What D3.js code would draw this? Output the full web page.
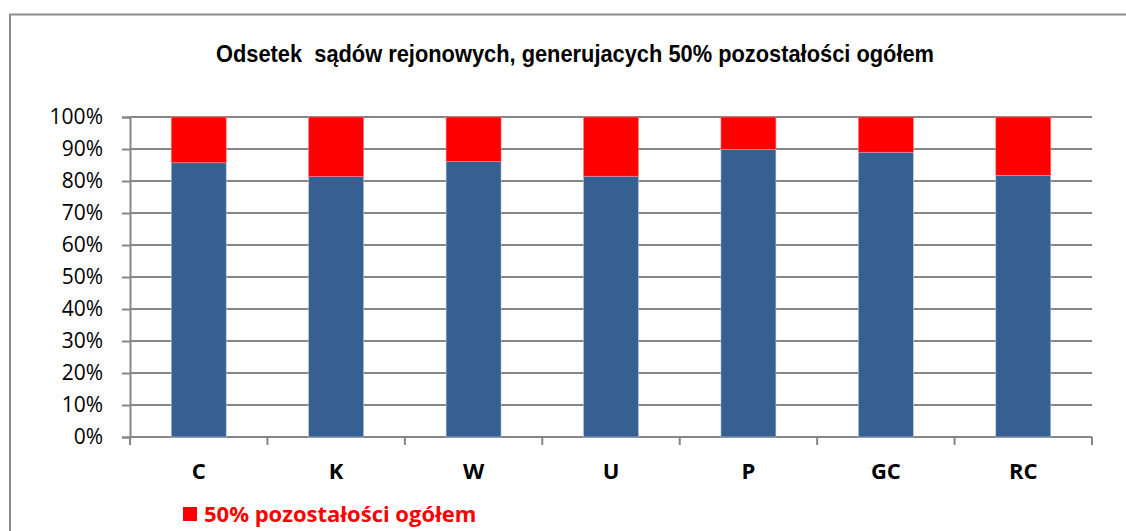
<!DOCTYPE html>
<html>
<head>
<meta charset="utf-8">
<script src="https://cdn.jsdelivr.net/npm/d3@7"></script>
<style>
  body { margin: 0; background: #fff; }
  svg { display: block; }
</style>
</head>
<body>
<svg id="chart" width="1126" height="531"></svg>
<script>
var categories = ['C', 'K', 'W', 'U', 'P', 'GC', 'RC'];
var baseShare = [0.857, 0.814, 0.861, 0.815, 0.899, 0.890, 0.818];
var topShare = [0.143, 0.186, 0.139, 0.185, 0.101, 0.110, 0.182];
var yTicks = [0, 0.1, 0.2, 0.3, 0.4, 0.5, 0.6, 0.7, 0.8, 0.9, 1];
var legendLabel = '50% pozostałości ogółem';
var title = 'Odsetek  sądów rejonowych, generujacych 50% pozostałości ogółem';

var svg = d3.select('#chart');
var plotLeft = 130, plotRight = 1092, plotTop = 117, plotBottom = 437;
var gridColor = '#868686';
var labelFont = '"Open Sans", Lato, sans-serif';

// outer frame (runs off the right / bottom edge)
svg.append('rect')
  .attr('x', 10).attr('y', 14.5)
  .attr('width', 1140).attr('height', 540)
  .attr('fill', 'none')
  .attr('stroke', '#8c8c8c')
  .attr('stroke-width', 2);

// narrow bold title: squeeze a regular bold face into the measured width
svg.append('text')
  .attr('x', 216).attr('y', 62)
  .attr('textLength', 718)
  .attr('lengthAdjust', 'spacingAndGlyphs')
  .style('font-family', '"Liberation Sans", Arial, sans-serif')
  .style('font-weight', 'bold')
  .style('font-size', '24px')
  .style('white-space', 'pre')
  .text(title);

var x = d3.scaleBand().domain(categories).range([plotLeft, plotRight]).paddingInner(0.6).paddingOuter(0.3);
var xEdges = d3.scaleLinear().domain([0, categories.length]).range([plotLeft, plotRight]);
var y = d3.scaleLinear().domain([0, 1]).range([plotBottom, plotTop]);

// gridlines
svg.append('g').selectAll('line')
  .data(yTicks.filter(function(d){ return d > 0; }))
  .enter().append('line')
  .attr('x1', plotLeft).attr('x2', plotRight)
  .attr('y1', function(d){ return y(d); })
  .attr('y2', function(d){ return y(d); })
  .attr('stroke', gridColor)
  .attr('stroke-width', 2);

// y axis
var yAxis = svg.append('g')
  .attr('transform', 'translate(' + plotLeft + ',0)')
  .call(d3.axisLeft(y).tickValues(yTicks).tickFormat(d3.format('.0%')).tickSize(8).tickPadding(19));
yAxis.select('.domain').attr('stroke', gridColor).attr('stroke-width', 2);
yAxis.selectAll('.tick line').attr('stroke', gridColor).attr('stroke-width', 2);
yAxis.selectAll('.tick text')
  .style('font-family', labelFont)
  .style('font-size', '21px')
  .attr('fill', '#000');

// x axis
var xAxis = svg.append('g')
  .attr('transform', 'translate(0,' + plotBottom + ')');
xAxis.append('line')
  .attr('x1', plotLeft).attr('x2', plotRight)
  .attr('stroke', gridColor).attr('stroke-width', 2);
xAxis.selectAll('.tk')
  .data(d3.range(categories.length + 1))
  .enter().append('line')
  .attr('x1', function(d){ return xEdges(d); })
  .attr('x2', function(d){ return xEdges(d); })
  .attr('y1', 0).attr('y2', 8)
  .attr('stroke', gridColor).attr('stroke-width', 2);
xAxis.selectAll('text')
  .data(categories)
  .enter().append('text')
  .attr('x', function(d){ return x(d) + x.bandwidth() / 2; })
  .attr('y', 42)
  .attr('text-anchor', 'middle')
  .style('font-family', labelFont)
  .style('font-weight', 'bold')
  .style('font-size', '22px')
  .text(function(d){ return d; });

// bars
var bars = svg.append('g');
bars.selectAll('.base')
  .data(categories)
  .enter().append('rect')
  .attr('x', function(d){ return x(d); })
  .attr('width', x.bandwidth())
  .attr('y', function(d, i){ return y(baseShare[i]); })
  .attr('height', function(d, i){ return plotBottom - y(baseShare[i]); })
  .attr('fill', '#376092')
  .attr('stroke', '#b9c9e0')
  .attr('stroke-width', 0.6);
bars.selectAll('.top')
  .data(categories)
  .enter().append('rect')
  .attr('x', function(d){ return x(d); })
  .attr('width', x.bandwidth())
  .attr('y', function(d, i){ return y(baseShare[i] + topShare[i]); })
  .attr('height', function(d, i){ return y(baseShare[i]) - y(baseShare[i] + topShare[i]); })
  .attr('fill', '#ff0000')
  .attr('stroke', '#ff8080')
  .attr('stroke-width', 0.6);

// legend
var legend = svg.append('g').attr('transform', 'translate(183,507)');
legend.append('rect')
  .attr('width', 14).attr('height', 14)
  .attr('fill', '#ff0000');
legend.append('text')
  .attr('x', 21).attr('y', 15)
  .attr('fill', '#ff0000')
  .style('font-family', labelFont)
  .style('font-weight', 'bold')
  .style('font-size', '22px')
  .text(legendLabel);
</script>
</body>
</html>
